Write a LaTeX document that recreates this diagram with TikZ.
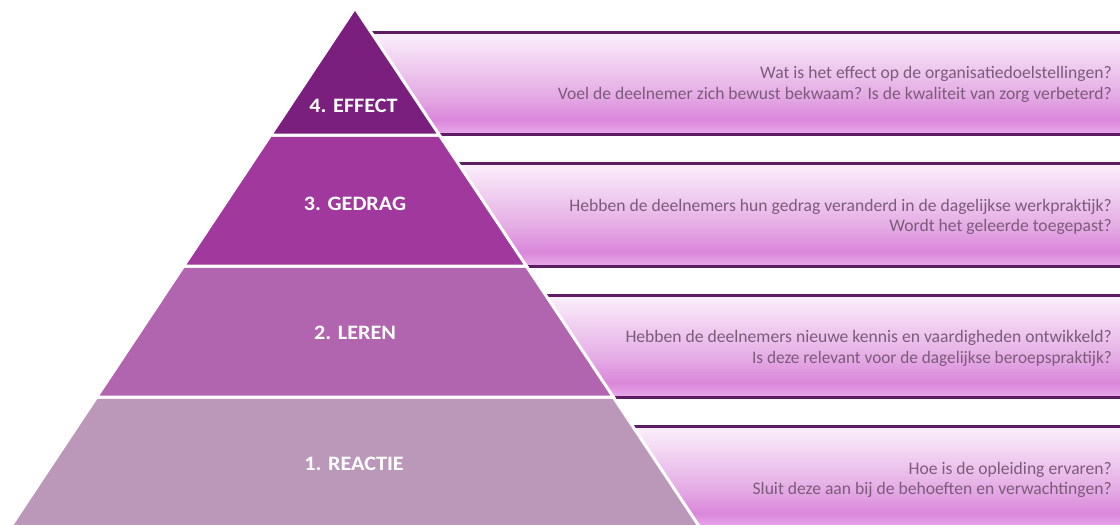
\documentclass[tikz,border=0pt]{standalone}
\usepackage{fontspec}
\setmainfont{Carlito}
\definecolor{lvfour}{HTML}{7B1F7F}
\definecolor{lvthree}{HTML}{A0389D}
\definecolor{lvtwo}{HTML}{B265AF}
\definecolor{lvone}{HTML}{BB98BA}
\definecolor{bandline}{HTML}{5E1C62}
\definecolor{bandtxt}{HTML}{7D5B7B}
\definecolor{bT}{HTML}{FBF0FB}
\definecolor{bU}{HTML}{F0CFF0}
\definecolor{bM}{HTML}{E5AEE5}
\definecolor{bD}{HTML}{DA87DA}
\definecolor{bB}{HTML}{E8AAE8}
\pgfdeclareverticalshading{bandshade}{100bp}{color(0bp)=(bB); color(25bp)=(bB); color(32bp)=(bD); color(45bp)=(bM); color(60bp)=(bU); color(75bp)=(bT); color(100bp)=(bT)}
\newcommand{\xsq}[2]{\scalebox{#1}[1]{#2}}
\begin{document}
\begin{tikzpicture}[x=1pt,y=-1pt,
  level/.style={draw=white,line width=3pt,line join=miter},
  bandfill/.style={shading=bandshade},
  bandrule/.style={draw=bandline,line width=3pt},
  lvlabel/.style={font=\fontsize{20.5}{24}\selectfont\bfseries,text=white,inner sep=0pt,anchor=base},
  question/.style={font=\fontsize{17.6}{21}\selectfont,text=bandtxt,anchor=base east,inner sep=0pt}]
\useasboundingbox (0,0) rectangle (1120,525);
\fill[white] (0,0) rectangle (1120,525);
% bands
\shade[bandfill] (370.9,32) -- (1125,32) -- (1125,134) -- (438.7,134) -- cycle;
\shade[bandfill] (457.9,163) -- (1125,163) -- (1125,266) -- (526.3,266) -- cycle;
\shade[bandfill] (545.6,295) -- (1125,295) -- (1125,397) -- (613.3,397) -- cycle;
\shade[bandfill] (632.6,426) -- (1125,426) -- (1125,528) -- (700.3,528) -- cycle;
\draw[bandrule] (370.9,32) -- (1125,32);
\draw[bandrule] (438.7,134) -- (1125,134);
\draw[bandrule] (457.9,163) -- (1125,163);
\draw[bandrule] (526.3,266) -- (1125,266);
\draw[bandrule] (545.6,295) -- (1125,295);
\draw[bandrule] (613.3,397) -- (1125,397);
\draw[bandrule] (632.6,426) -- (1125,426);
% pyramid
\filldraw[level,fill=lvone] (96.7,397) -- (613.3,397) -- (701.6,530) -- (8.4,530) -- cycle;
\filldraw[level,fill=lvtwo] (183.7,266) -- (526.3,266) -- (613.3,397) -- (96.7,397) -- cycle;
\filldraw[level,fill=lvthree] (270.7,135) -- (439.3,135) -- (526.3,266) -- (183.7,266) -- cycle;
\filldraw[level,fill=lvfour] (355,8) -- (439.3,135) -- (270.7,135) -- cycle;
% labels
\node[lvlabel] (l4) at (353.5,112) {\xsq{1.08}{4. EFFECT}};
\node[lvlabel] (l3) at (355,210) {\xsq{1.08}{3. GEDRAG}};
\node[lvlabel] (l2) at (355,339) {\xsq{1.08}{2. LEREN}};
\node[lvlabel] (l1) at (354,470) {\xsq{1.08}{1. REACTIE}};
% questions
\node[question] (q4a) at (1112,78) {Wat is het effect op de organisatiedoelstellingen?};
\node[question] (q4b) at (1112,99) {Voel de deelnemer zich bewust bekwaam? Is de kwaliteit van zorg verbeterd?};
\node[question] (q3a) at (1112,211) {Hebben de deelnemers hun gedrag veranderd in de dagelijkse werkpraktijk?};
\node[question] (q3b) at (1112,231) {Wordt het geleerde toegepast?};
\node[question] (q2a) at (1112,342) {Hebben de deelnemers nieuwe kennis en vaardigheden ontwikkeld?};
\node[question] (q2b) at (1112,363) {\xsq{0.98}{Is deze relevant voor de dagelijkse beroepspraktijk?}};
\node[question] (q1a) at (1112,474) {Hoe is de opleiding ervaren?};
\node[question] (q1b) at (1112,494) {Sluit deze aan bij de behoeften en verwachtingen?};
\end{tikzpicture}
\end{document}
